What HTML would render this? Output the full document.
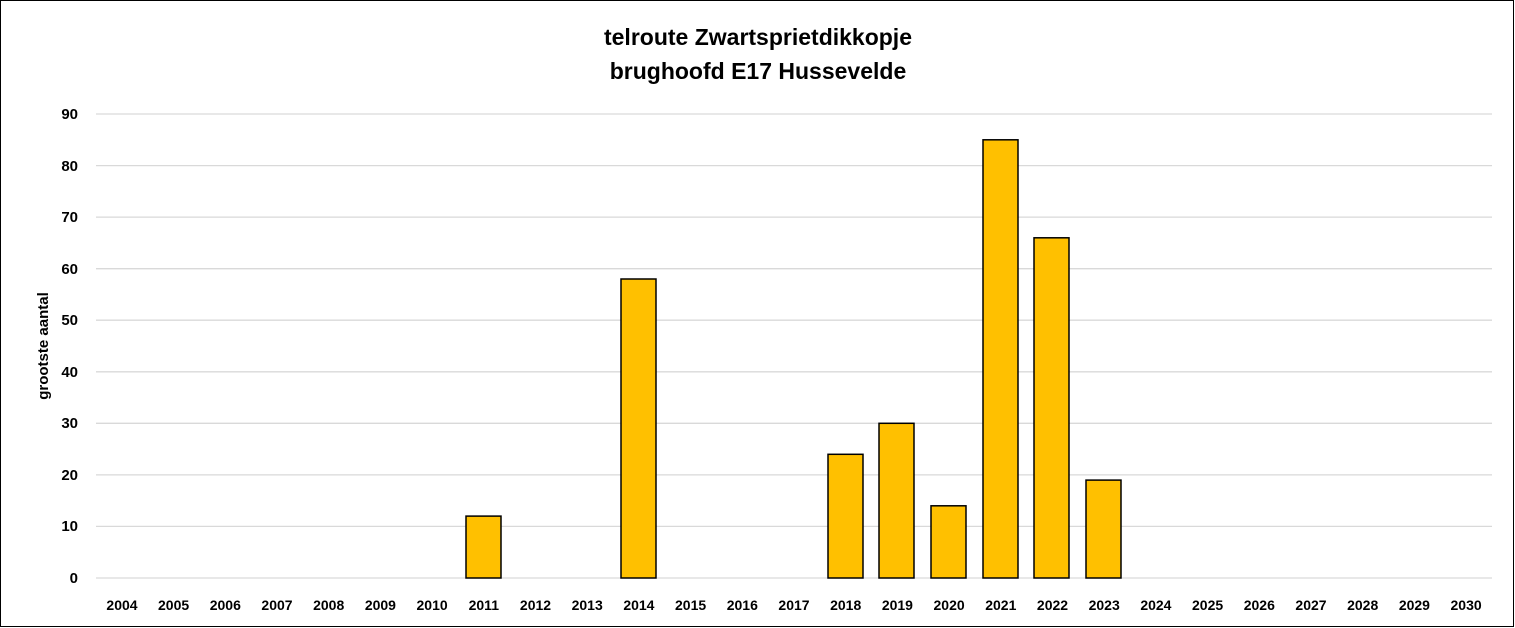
<!DOCTYPE html>
<html><head><meta charset="utf-8"><style>body{margin:0;background:#fff}svg{display:block}</style></head><body>
<svg width="1515" height="628" xmlns="http://www.w3.org/2000/svg" font-family="Liberation Sans, sans-serif" font-weight="bold">
<rect x="0.5" y="0.5" width="1513" height="626" fill="#fff" stroke="#000" stroke-width="1"/>
<text x="758" y="45" font-size="23" text-anchor="middle">telroute Zwartsprietdikkopje</text>
<text x="758" y="79" font-size="23" text-anchor="middle">brughoofd E17 Hussevelde</text>
<g stroke="#d9d9d9" stroke-width="1.3">
<line x1="96" x2="1492" y1="114" y2="114"/><line x1="96" x2="1492" y1="165.6" y2="165.6"/><line x1="96" x2="1492" y1="217.1" y2="217.1"/><line x1="96" x2="1492" y1="268.7" y2="268.7"/><line x1="96" x2="1492" y1="320.2" y2="320.2"/><line x1="96" x2="1492" y1="371.8" y2="371.8"/><line x1="96" x2="1492" y1="423.3" y2="423.3"/><line x1="96" x2="1492" y1="474.9" y2="474.9"/><line x1="96" x2="1492" y1="526.4" y2="526.4"/><line x1="96" x2="1492" y1="578" y2="578"/>
</g>
<g font-size="15" text-anchor="end">
<text x="78" y="119">90</text><text x="78" y="171">80</text><text x="78" y="222">70</text><text x="78" y="274">60</text><text x="78" y="325">50</text><text x="78" y="377">40</text><text x="78" y="428">30</text><text x="78" y="480">20</text><text x="78" y="531">10</text><text x="78" y="583">0</text>
</g>
<text transform="translate(48,346) rotate(-90)" font-size="15" text-anchor="middle">grootste aantal</text>
<g fill="#ffc000" stroke="#000" stroke-width="1.5">
<rect x="466" y="516.1" width="35" height="61.9"/>
<rect x="621" y="279" width="35" height="299"/>
<rect x="828" y="454.3" width="35" height="123.7"/>
<rect x="879" y="423.3" width="35" height="154.7"/>
<rect x="931" y="505.8" width="35" height="72.2"/>
<rect x="983" y="139.8" width="35" height="438.2"/>
<rect x="1034" y="237.8" width="35" height="340.2"/>
<rect x="1086" y="480.1" width="35" height="97.9"/>
</g>
<g font-size="14" text-anchor="middle">
<text x="122" y="610">2004</text><text x="173.6" y="610">2005</text><text x="225.3" y="610">2006</text><text x="277" y="610">2007</text><text x="328.7" y="610">2008</text><text x="380.4" y="610">2009</text><text x="432.1" y="610">2010</text><text x="483.8" y="610">2011</text><text x="535.5" y="610">2012</text><text x="587.2" y="610">2013</text><text x="638.9" y="610">2014</text><text x="690.6" y="610">2015</text><text x="742.3" y="610">2016</text><text x="794" y="610">2017</text><text x="845.7" y="610">2018</text><text x="897.4" y="610">2019</text><text x="949.1" y="610">2020</text><text x="1000.8" y="610">2021</text><text x="1052.5" y="610">2022</text><text x="1104.2" y="610">2023</text><text x="1155.9" y="610">2024</text><text x="1207.6" y="610">2025</text><text x="1259.3" y="610">2026</text><text x="1311" y="610">2027</text><text x="1362.7" y="610">2028</text><text x="1414.4" y="610">2029</text><text x="1466.1" y="610">2030</text>
</g>
</svg>
</body></html>
